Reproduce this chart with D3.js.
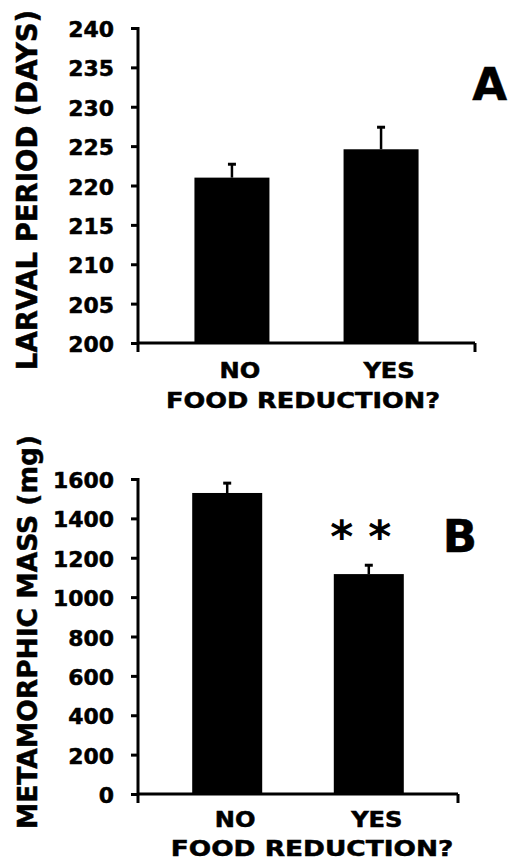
<!DOCTYPE html>
<html>
<head>
<meta charset="utf-8">
<script src="https://cdn.jsdelivr.net/npm/d3@7"></script>
<style>
  body { margin: 0; background: #fff; }
  svg text { font-family: "DejaVu Sans", Verdana, sans-serif; font-weight: bold; fill: #000;
             stroke: #000; stroke-width: 0.5px; }
</style>
</head>
<body>
<svg id="chart" width="508" height="864"></svg>
<script>
// data
const categories = ["NO", "YES"];
const larvalMean = [221.0, 224.6];
const larvalErr = [1.7, 2.8];
const massMean = [1529, 1117];
const massErr = [50, 45];
const larvalTicks = d3.range(200, 241, 5);
const massTicks = d3.range(0, 1601, 200);

const svg = d3.select("#chart");

// horizontal text is a bit stretched in the original
function label(g, x, y, txt, size, sx, anchor) {
  return g.append("text")
    .attr("transform", `translate(${x},${y}) scale(${sx},1)`)
    .attr("text-anchor", anchor || "middle")
    .style("font-size", size + "px")
    .text(txt);
}

function panel(opt) {
  const g = svg.append("g");
  const y = d3.scaleLinear().domain(opt.domain).range([opt.bottom, opt.top]);
  const x = d3.scaleBand().domain(categories)
    .range([opt.left, opt.right]).paddingInner(0.5).paddingOuter(0.38);

  // bars
  g.selectAll(".bar").data(opt.means).enter().append("rect")
    .attr("x", (d, i) => x(categories[i]) + (x.bandwidth() - opt.barW) / 2)
    .attr("width", opt.barW)
    .attr("y", d => y(d))
    .attr("height", d => y(opt.domain[0]) - y(d))
    .attr("fill", "#000");

  // error bars (upper only)
  opt.means.forEach((m, i) => {
    const cx = x(categories[i]) + x.bandwidth() / 2;
    g.append("line").attr("x1", cx).attr("x2", cx)
      .attr("y1", y(m)).attr("y2", y(m + opt.errs[i]))
      .attr("stroke", "#000").attr("stroke-width", 2.5);
    g.append("line").attr("x1", cx - 4).attr("x2", cx + 4)
      .attr("y1", y(m + opt.errs[i])).attr("y2", y(m + opt.errs[i]))
      .attr("stroke", "#000").attr("stroke-width", 3);
  });

  // y axis
  const yAxis = g.append("g").attr("transform", `translate(${opt.left},0)`)
    .call(d3.axisLeft(y).tickValues(opt.ticks).tickSize(7).tickSizeOuter(0).tickFormat(d3.format("d")));
  yAxis.select(".domain").remove();
  yAxis.selectAll(".tick line").attr("stroke-width", 3);
  yAxis.selectAll(".tick text").remove();
  opt.ticks.forEach(t => label(g, 114, y(t) + 9, String(t), 21.5, 1.02, "end"));

  const base = y(opt.domain[0]);
  g.append("line").attr("x1", opt.left).attr("x2", opt.left)
    .attr("y1", opt.top - 1).attr("y2", base + 9)
    .attr("stroke", "#000").attr("stroke-width", 3);
  // x axis with end ticks
  g.append("line").attr("x1", opt.left).attr("x2", opt.right)
    .attr("y1", base).attr("y2", base)
    .attr("stroke", "#000").attr("stroke-width", 3);
  g.append("line").attr("x1", opt.right).attr("x2", opt.right)
    .attr("y1", base).attr("y2", base + 9)
    .attr("stroke", "#000").attr("stroke-width", 3);

  // category labels
  categories.forEach(c => {
    label(g, x(c) + x.bandwidth() / 2 + 8, base + opt.catDy, c, opt.catSize, 1.15);
  });
  label(g, opt.xTitleX, base + opt.xTitleDy, "FOOD REDUCTION?", opt.xTitleSize, opt.xTitleSx);

  // y title
  g.append("text")
    .attr("transform", `translate(${opt.yTitleX},${opt.yTitleY}) rotate(-90)`)
    .attr("text-anchor", "middle")
    .style("font-size", opt.yTitleSize + "px")
    .text(opt.yTitle);

  // panel letter
  label(g, opt.letterX, opt.letterY, opt.letter, 45, 1, "end");
  return { g, x, y };
}

panel({
  domain: [200, 240], top: 28, bottom: 343, left: 138, right: 475,
  means: larvalMean, errs: larvalErr, ticks: larvalTicks, barW: 75,
  catDy: 35, catSize: 21, xTitleX: 303, xTitleDy: 65, xTitleSize: 21, xTitleSx: 1.22,
  yTitle: "LARVAL PERIOD (DAYS)", yTitleX: 37, yTitleY: 190, yTitleSize: 27.5,
  letter: "A", letterX: 507, letterY: 100
});

const pB = panel({
  domain: [0, 1600], top: 479, bottom: 794, left: 138, right: 458,
  means: massMean, errs: massErr, ticks: massTicks, barW: 70,
  catDy: 33, catSize: 21, xTitleX: 312, xTitleDy: 62, xTitleSize: 22, xTitleSx: 1.2,
  yTitle: "METAMORPHIC MASS (mg)", yTitleX: 37, yTitleY: 632, yTitleSize: 26.5,
  letter: "B", letterX: 477, letterY: 552
});

// significance stars over the YES bar
const cyes = pB.x("YES") + pB.x.bandwidth() / 2;
[-27, 11].forEach(dx => {
  pB.g.append("text")
    .attr("x", cyes + dx).attr("y", 552)
    .attr("text-anchor", "middle")
    .style("font-size", "44px").style("font-weight", "bold").style("stroke-width", "0")
    .text("*");
});
</script>
</body>
</html>
